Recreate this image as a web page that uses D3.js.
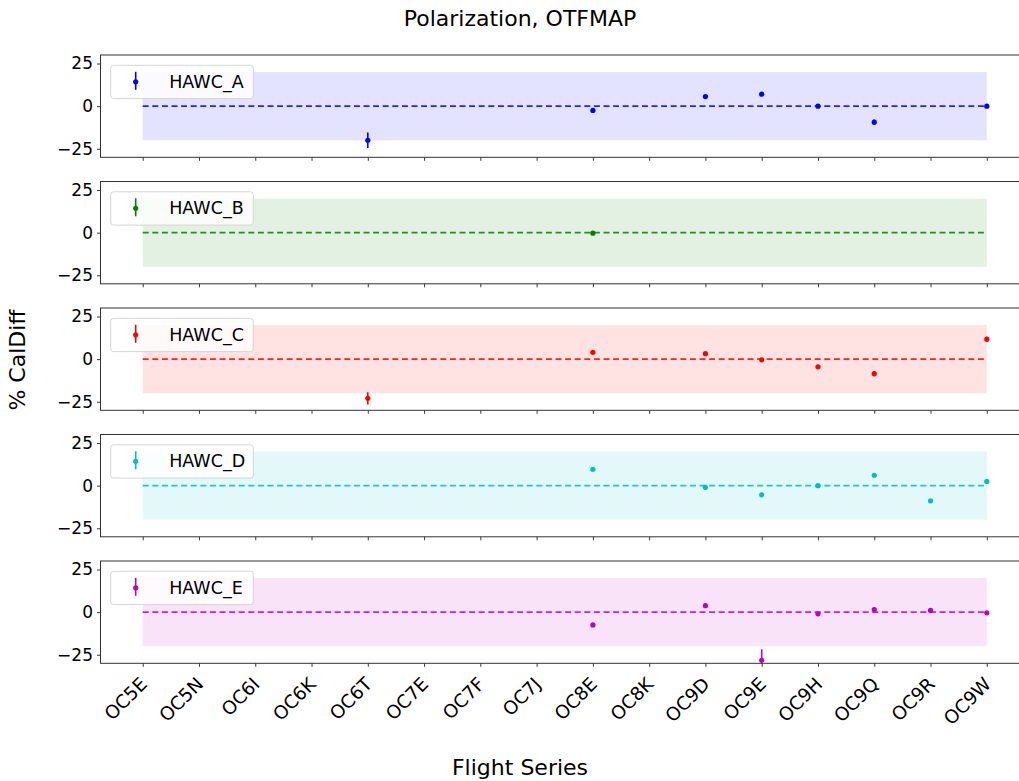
<!DOCTYPE html>
<html><head><meta charset="utf-8">
<script src="https://cdn.jsdelivr.net/npm/d3@7"></script>
<style>body{margin:0;background:#fff} text{font-family:"DejaVu Sans",sans-serif;fill:#000}</style>
</head><body><svg id="c" width="1019" height="781"></svg>
<script>
const categories = ["OC5E","OC5N","OC6I","OC6K","OC6T","OC7E","OC7F","OC7J","OC8E","OC8K","OC9D","OC9E","OC9H","OC9Q","OC9R","OC9W"];
const seriesNames = ["HAWC_A","HAWC_B","HAWC_C","HAWC_D","HAWC_E"];
const seriesColors = ["#0000ff","#008000","#ff0000","#00bfbf","#bf00bf"];
const yTicks = [-25, 0, 25];
const bandLimit = 20;

const hawcACats = ["OC6T","OC8E","OC9D","OC9E","OC9H","OC9Q","OC9W"];
const hawcAVals = [-20, -2.5, 5.6, 7, 0, -9.4, 0];
const hawcAErrs = [4.5, 1, 0.8, 0.8, 0.6, 1.5, 0.6];

const hawcBCats = ["OC8E"];
const hawcBVals = [-0.3];
const hawcBErrs = [0.6];

const hawcCCats = ["OC6T","OC8E","OC9D","OC9E","OC9H","OC9Q","OC9W"];
const hawcCVals = [-23, 4, 3.2, -0.4, -4.5, -8.5, 11.7];
const hawcCErrs = [3.6, 0.8, 0.8, 0.6, 0.6, 1.5, 1.5];

const hawcDCats = ["OC8E","OC9D","OC9E","OC9H","OC9Q","OC9R","OC9W"];
const hawcDVals = [9.6, -1, -5.4, 0, 6.1, -8.9, 2.5];
const hawcDErrs = [0.6, 0.6, 0.6, 0.6, 0.6, 0.6, 0.6];

const hawcECats = ["OC8E","OC9D","OC9E","OC9H","OC9Q","OC9R","OC9W"];
const hawcEVals = [-7.5, 3.8, -28.2, -1, 1.5, 1, -0.4];
const hawcEErrs = [0.6, 0.6, 6.5, 0.8, 1, 0.6, 0.6];

const allCats = [hawcACats, hawcBCats, hawcCCats, hawcDCats, hawcECats];
const allVals = [hawcAVals, hawcBVals, hawcCVals, hawcDVals, hawcEVals];
const allErrs = [hawcAErrs, hawcBErrs, hawcCErrs, hawcDErrs, hawcEErrs];

const svg = d3.select("#c");
const left = 100.5, right = 1029, top0 = 55, step = 126.5, ph = 102.3;
const x = d3.scaleLinear().domain([-0.75, categories.length - 1 + 0.75]).range([left, right]);
const xi = c => x(categories.indexOf(c));

svg.append("text").attr("x", 520).attr("y", 26).attr("text-anchor", "middle")
  .style("font-size", "22px").text("Polarization, OTFMAP");

seriesNames.forEach((name, k) => {
  const t = top0 + k * step;
  const y = d3.scaleLinear().domain([-30, 30]).range([t + ph, t]);
  const col = seriesColors[k];
  const g = svg.append("g");
  const clipId = "clip" + k;
  g.append("clipPath").attr("id", clipId).append("rect")
    .attr("x", left).attr("y", t).attr("width", right - left).attr("height", ph);
  const pg = g.append("g").attr("clip-path", `url(#${clipId})`);
  pg.append("rect").attr("x", x(0)).attr("y", y(bandLimit))
    .attr("width", x(categories.length - 1) - x(0)).attr("height", y(-bandLimit) - y(bandLimit))
    .attr("fill", col).attr("fill-opacity", 0.11);
  pg.append("line").attr("x1", x(0)).attr("x2", x(categories.length - 1))
    .attr("y1", y(0)).attr("y2", y(0)).attr("stroke", col).attr("stroke-opacity", 0.85)
    .attr("stroke-width", 1.7).attr("stroke-dasharray", "6,3.6");
  const data = allCats[k].map((c, i) => ({c, v: allVals[k][i], e: allErrs[k][i]}));
  pg.selectAll("line.err").data(data).join("line").attr("class", "err")
    .attr("x1", d => xi(d.c)).attr("x2", d => xi(d.c))
    .attr("y1", d => y(d.v - d.e)).attr("y2", d => y(d.v + d.e))
    .attr("stroke", col).attr("stroke-width", 1.6);
  pg.selectAll("circle").data(data).join("circle")
    .attr("cx", d => xi(d.c)).attr("cy", d => y(d.v)).attr("r", 2.6).attr("fill", col);
  const ya = d3.axisLeft(y).tickValues(yTicks).tickSize(3.5).tickPadding(4)
    .tickFormat(d => d < 0 ? "\u2212" + Math.abs(d) : String(d));
  const yg = g.append("g").attr("transform", `translate(${left},0)`).call(ya);
  yg.select(".domain").remove();
  yg.selectAll("text").style("font-size", "17px").style("font-family", '"DejaVu Sans",sans-serif');
  yg.selectAll("line").attr("stroke", "#222").attr("stroke-width", 0.9);
  const xa = d3.axisBottom(x).tickValues(d3.range(categories.length)).tickSize(3.5).tickPadding(4)
    .tickFormat(k === seriesNames.length - 1 ? (i => categories[i]) : () => "");
  const xg = g.append("g").attr("transform", `translate(0,${t + ph})`).call(xa);
  xg.select(".domain").remove();
  xg.selectAll("line").attr("stroke", "#222").attr("stroke-width", 0.9);
  if (k === seriesNames.length - 1) {
    xg.selectAll("text").style("font-size", "18.5px").style("font-family", '"DejaVu Sans",sans-serif')
      .attr("text-anchor", "end").attr("y", 0).attr("dy", 0)
      .attr("transform", "translate(5,22) rotate(-45)");
  }
  g.append("rect").attr("x", left).attr("y", t).attr("width", right - left).attr("height", ph)
    .attr("fill", "none").attr("stroke", "#333").attr("stroke-width", 1);
  const lg = g.append("g").attr("transform", `translate(${left + 10.2},${t + 10.3})`);
  lg.append("rect").attr("width", 142.6).attr("height", 33.3).attr("rx", 3)
    .attr("fill", "#fff").attr("fill-opacity", 0.8).attr("stroke", "#d6d6d6").attr("stroke-width", 1);
  lg.append("line").attr("x1", 25).attr("x2", 25).attr("y1", 6.5).attr("y2", 24.5)
    .attr("stroke", col).attr("stroke-width", 1.6);
  lg.append("circle").attr("cx", 25).attr("cy", 16.5).attr("r", 2.6).attr("fill", col);
  lg.append("text").attr("x", 58.5).attr("y", 22.6).style("font-size", "17.5px").text(name);
});

svg.append("text").attr("transform", "translate(25,360) rotate(-90)").attr("text-anchor", "middle")
  .style("font-size", "22px").text("% CalDiff");
svg.append("text").attr("x", 520).attr("y", 775).attr("text-anchor", "middle")
  .style("font-size", "22px").text("Flight Series");
</script></body></html>
